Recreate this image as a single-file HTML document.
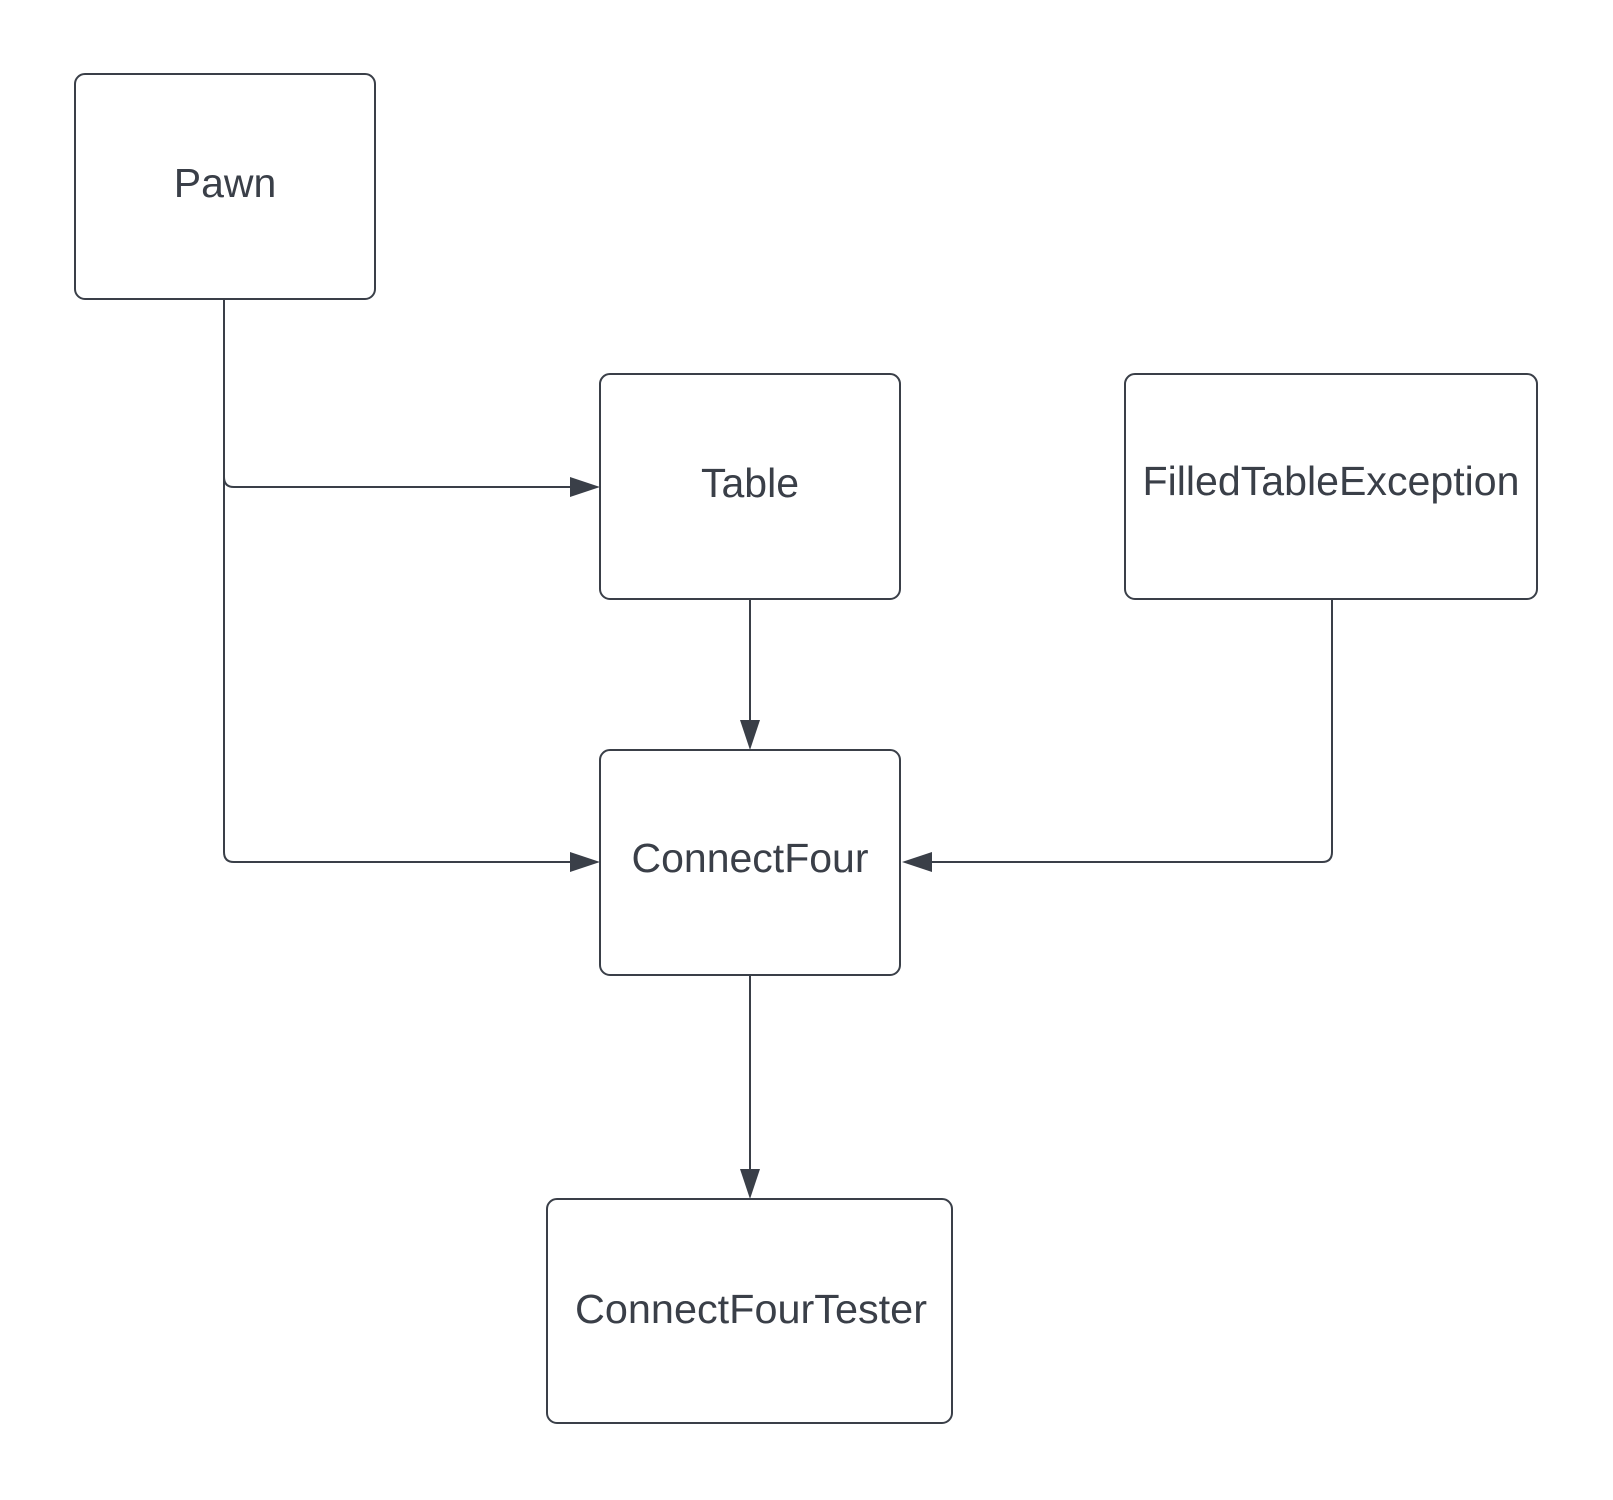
<!DOCTYPE html>
<html><head><meta charset="utf-8"><style>
html,body{margin:0;padding:0;background:#fff;}
svg{display:block;}
text{font-family:"Liberation Sans",Arial,sans-serif;font-size:41px;fill:#3a3f48;}
</style></head><body>
<svg width="1613" height="1500" viewBox="0 0 1613 1500" xmlns="http://www.w3.org/2000/svg">
<g fill="none" stroke="#3a3f48" stroke-width="2">
<rect x="75" y="74" width="300" height="225" rx="10"/>
<rect x="600" y="374" width="300" height="225" rx="10"/>
<rect x="1125" y="374" width="412" height="225" rx="10"/>
<rect x="600" y="750" width="300" height="225" rx="10"/>
<rect x="547" y="1199" width="405" height="224" rx="10"/>
<path d="M224 299 V477 Q224 487 234 487 H572"/>
<path d="M224 477 V852 Q224 862 234 862 H572"/>
<path d="M750 599 V720"/>
<path d="M750 975 V1169"/>
<path d="M1332 599 V852 Q1332 862 1322 862 H930"/>
</g>
<g fill="#3a3f48">
<polygon points="600,487 570,477 570,497"/>
<polygon points="600,862 570,852 570,872"/>
<polygon points="750,750 740,720 760,720"/>
<polygon points="750,1199 740,1169 760,1169"/>
<polygon points="902,862 932,852 932,872"/>
</g>
<text x="225" y="197" text-anchor="middle">Pawn</text>
<text x="750" y="497" text-anchor="middle">Table</text>
<text x="1331" y="495" text-anchor="middle" textLength="377" lengthAdjust="spacingAndGlyphs">FilledTableException</text>
<text x="750" y="872" text-anchor="middle">ConnectFour</text>
<text x="751" y="1323" text-anchor="middle" textLength="352" lengthAdjust="spacingAndGlyphs">ConnectFourTester</text>
</svg>
</body></html>
